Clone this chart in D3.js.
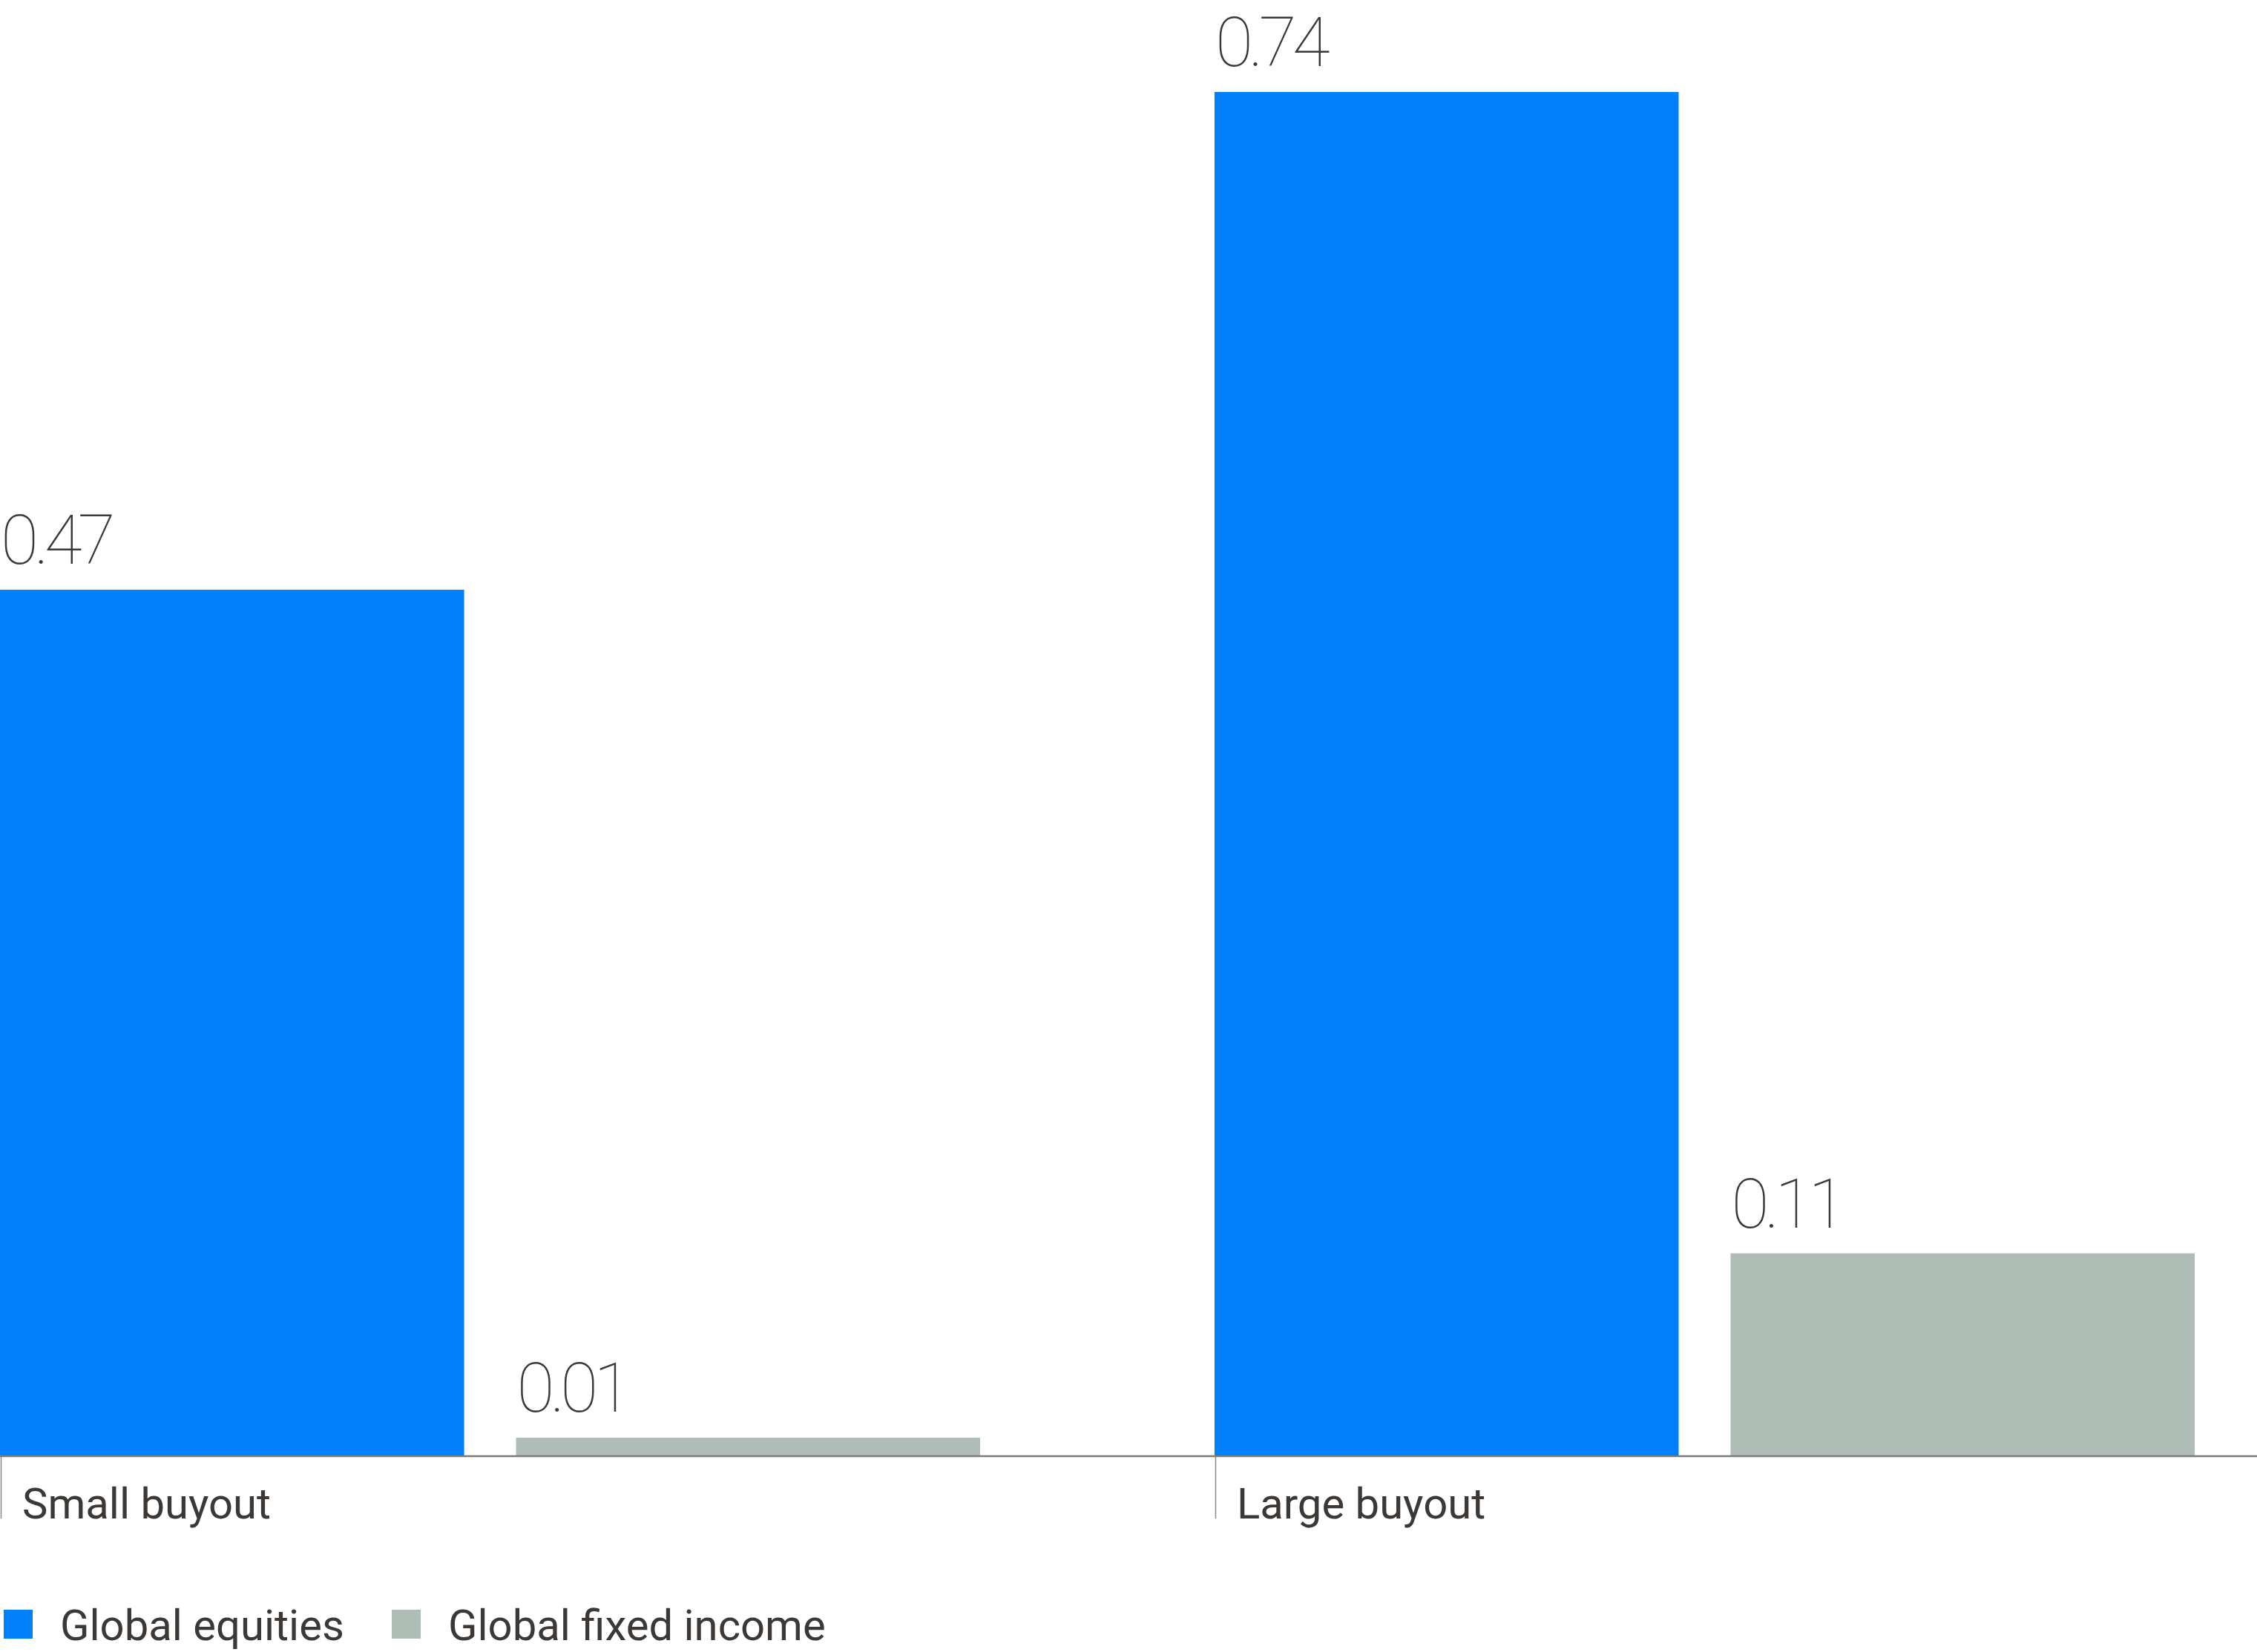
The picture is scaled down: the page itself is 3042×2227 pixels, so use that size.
<!DOCTYPE html>
<html><head><meta charset="utf-8">
<script src="https://cdn.jsdelivr.net/npm/d3@7"></script>
<style>
html,body{margin:0;padding:0;background:#fff;}
svg{display:block;}
</style></head>
<body>
<svg id="chart" width="3042" height="2227"></svg>
<script>
const categories = ["Small buyout", "Large buyout"];
const seriesNames = ["Global equities", "Global fixed income"];
const globalEquities = [0.47, 0.74];
const globalFixedIncome = [0.01, 0.11];
const valueLabels = [["0.47", "0.01"], ["0.74", "0.11"]];

const colors = ["#0080fa", "#aebdb6"];
const textColor = "#3b3835";

const svg = d3.select("#chart");
const baseline = 1963;

const x0 = d3.scaleBand().domain(categories).range([0, 2958]).paddingInner(0.193).paddingOuter(0);
const x1 = d3.scaleBand().domain(seriesNames).range([0, x0.bandwidth()]).paddingInner(0.1006).paddingOuter(0);
const y = d3.scaleLinear().domain([0, 0.74]).range([baseline, 124]);

const data = categories.map((c, i) => ({
  cat: c,
  vals: [
    {s: seriesNames[0], v: globalEquities[i], label: valueLabels[i][0]},
    {s: seriesNames[1], v: globalFixedIncome[i], label: valueLabels[i][1]}
  ]
}));

const groups = svg.selectAll("g.grp").data(data).join("g")
  .attr("class", "grp")
  .attr("transform", d => `translate(${x0(d.cat)},0)`);

groups.selectAll("rect").data(d => d.vals).join("rect")
  .attr("x", d => x1(d.s))
  .attr("y", d => y(d.v))
  .attr("width", x1.bandwidth())
  .attr("height", d => baseline - y(d.v))
  .attr("fill", (d, i) => colors[i]);

groups.selectAll("text.val").data(d => d.vals).join("text")
  .attr("class", "val")
  .attr("x", d => x1(d.s) + 1)
  .attr("y", d => y(d.v) - 35)
  .attr("font-family", "Roboto")
  .attr("font-weight", 100)
  .attr("font-size", 93)
  .attr("letter-spacing", -6)
  .attr("fill", textColor)
  .text(d => d.label);

// axis
const axis = d3.axisBottom(x0).tickSize(0).tickFormat("");
const ax = svg.append("g").attr("transform", `translate(0,${baseline})`).call(axis);
ax.select(".domain").remove();
svg.append("line").attr("x1", 0).attr("x2", 3042).attr("y1", baseline).attr("y2", baseline)
  .attr("stroke", "#7a7a7a").attr("stroke-width", 2.5);

groups.append("line")
  .attr("x1", 1.5).attr("x2", 1.5).attr("y1", baseline).attr("y2", 2047)
  .attr("stroke", "#8a8a8a").attr("stroke-width", 1.5);

groups.append("text")
  .attr("x", 30).attr("y", 2047)
  .attr("font-family", "Roboto")
  .attr("font-weight", 400)
  .attr("font-size", 58)
  .attr("fill", textColor)
  .text(d => d.cat);

// legend
const legendX = [5, 528];
const lg = svg.selectAll("g.leg").data(seriesNames).join("g")
  .attr("class", "leg")
  .attr("transform", (d, i) => `translate(${legendX[i]},2170)`);
lg.append("rect").attr("width", 39).attr("height", 39).attr("fill", (d, i) => colors[i]);
lg.append("text").attr("x", 76).attr("y", 41)
  .attr("font-family", "Roboto").attr("font-size", 58).attr("fill", textColor)
  .text(d => d);
</script>
</body></html>
